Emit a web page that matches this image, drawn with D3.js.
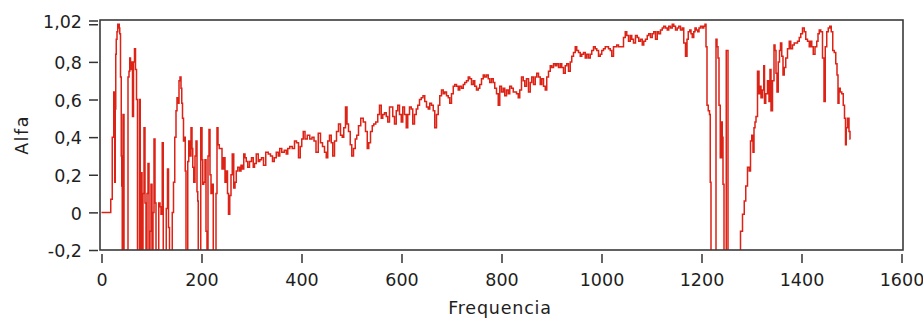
<!DOCTYPE html>
<html><head><meta charset="utf-8">
<script src="https://cdn.jsdelivr.net/npm/d3@7"></script>
<style>
body{margin:0;background:#fff}
svg{display:block}
text{font-family:"DejaVu Sans",Verdana,sans-serif;fill:#1e1e1e}
</style>
</head><body>
<svg id="c" width="923" height="320"></svg>
<script>
// ---- data ----
const freq = [0,18,19,21,22,24,25,26,27,28,29,30,32,33,35,36,37,39,40,41,42,44,46,50,52,54,56,57,59,61,63,65,67,69,71,73,75,77,78,80,82,84,86,88,90,92,94,96,98,100,102,104,106,108,110,113,116,118,120,123,124,128,131,133,135,137,140,143,145,148,150,152,154,156,158,160,161,163,165,167,168,170,172,173,176,178,180,182,183,186,188,190,192,193,194,197,200,202,203,206,208,210,212,214,216,218,220,222,225,228,230,232,
234,237,240,242,246,248,251,253,255,258,260,263,266,268,271,274,278,280,283,286,288,291,294,298,302,305,307,312,315,318,322,326,331,336,340,344,347,352,355,358,363,368,371,374,379,384,388,392,396,399,402,405,409,414,419,423,427,
431,436,440,444,448,451,454,458,461,464,468,472,476,480,483,486,490,492,496,499,502,506,509,512,516,521,526,530,533,536,540,543,546,551,554,558,561,564,568,571,574,578,581,584,588,591,594,598,601,604,608,611,614,618,621,624,628,631,634,638,641,
645,648,652,655,658,662,665,668,672,675,678,682,685,688,692,695,698,702,705,708,712,715,718,722,725,728,732,735,738,742,745,748,752,755,758,762,765,768,772,775,778,782,785,788,792,795,798,802,805,808,812,815,818,822,825,828,832,835,838,842,845,848,852,
856,859,862,866,869,872,876,879,882,886,889,892,896,899,902,906,909,912,916,919,922,926,929,932,936,939,942,946,949,952,956,959,962,966,969,972,976,979,982,986,989,992,996,999,1002,1006,1009,1012,1016,1019,1022,1026,1029,1032,1036,1039,1042,1046,1049,1052,1056,1059,1062,1066,
1070,1073,1076,1080,1083,1086,1090,1093,1096,1100,1103,1106,1110,1113,1116,1120,1123,1126,1130,1133,1136,1140,1143,1146,1150,1153,1156,1160,1163,1166,1170,1172,1175,1178,1180,1183,1186,1188,1191,1194,1196,1200,1203,1206,1208,1210,1212,1215,1217,1218,1220,1228,1230,1232,1234,1236,1239,1241,1242,1244,1246,1249,1250,1252,1254,1276,
1280,1284,1287,1290,1294,1297,1299,1302,1304,1306,1308,1310,1314,1316,1318,1320,1324,1325,1327,1330,1334,1336,1338,1340,1344,1346,1348,1350,1352,1355,1357,1359,1362,1364,1367,1370,1374,1377,1380,1384,1387,1390,1394,1397,1400,1404,1407,1410,1414,1417,1419,1422,1425,1429,1432,1434,1437,1440,1444,1446,1449,1452,1455,1458,1461,1464,1467,1470,1472,1474,1476,1479,1482,1485,1487,1489,1490,1494,1496,1498];

const alfa = [0,0,0.07,0.07,0.40,0.40,0.64,0.60,0.16,0.55,0.84,0.92,0.96,1.00,1.00,0.98,0.95,0.72,0.30,0.14,-0.45,0.52,-0.45,-0.45,-0.20,0.72,0.75,0.82,0.76,0.80,0.51,0.80,0.87,0.76,0.60,-0.45,-0.45,0.60,-0.45,0.21,-0.30,0.10,0.45,0.05,-0.45,0.10,0.26,-0.45,-0.10,0.15,-0.45,0.00,0.39,0.05,-0.45,-0.20,0.05,0.03,-0.01,0.37,-0.45,-0.45,0.02,0.23,-0.08,-0.45,-0.45,0.00,0.16,0.40,0.54,0.61,0.58,0.70,0.72,0.66,0.58,0.50,0.38,0.40,0.22,-0.45,-0.45,0.27,0.38,0.30,0.45,0.34,0.24,0.16,0.30,0.38,0.11,0.06,-0.45,-0.45,0.45,0.28,0.15,0.16,0.28,-0.10,-0.45,0.30,0.44,0.20,0.10,0.15,-0.45,-0.45,0.10,0.45,
0.36,0.34,0.34,0.23,0.29,0.16,0.22,0.10,-0.01,0.09,0.20,0.31,0.13,0.16,0.22,0.24,0.22,0.25,0.23,0.31,0.29,0.27,0.24,0.27,0.29,0.24,0.26,0.31,0.27,0.28,0.29,0.25,0.32,0.31,0.30,0.27,0.29,0.32,0.30,0.34,0.32,0.33,0.31,0.34,0.35,0.34,0.38,0.37,0.29,0.35,0.39,0.43,0.39,0.41,0.39,0.40,0.38,
0.32,0.42,0.37,0.35,0.32,0.29,0.38,0.41,0.37,0.30,0.38,0.43,0.47,0.41,0.40,0.45,0.56,0.47,0.43,0.36,0.30,0.34,0.39,0.41,0.46,0.50,0.48,0.43,0.34,0.37,0.43,0.46,0.47,0.48,0.52,0.57,0.50,0.52,0.53,0.51,0.48,0.56,0.56,0.51,0.47,0.54,0.57,0.52,0.48,0.56,0.52,0.45,0.52,0.56,0.55,0.47,0.52,0.55,0.57,0.60,0.61,
0.62,0.59,0.56,0.55,0.58,0.57,0.54,0.45,0.52,0.57,0.62,0.65,0.63,0.64,0.62,0.61,0.58,0.63,0.67,0.68,0.67,0.65,0.67,0.66,0.68,0.69,0.70,0.72,0.71,0.68,0.70,0.67,0.65,0.66,0.68,0.71,0.73,0.72,0.73,0.71,0.69,0.71,0.69,0.66,0.63,0.57,0.67,0.64,0.66,0.62,0.65,0.63,0.67,0.66,0.64,0.64,0.63,0.61,0.65,0.72,0.70,0.67,0.71,
0.64,0.69,0.72,0.68,0.72,0.74,0.72,0.68,0.71,0.67,0.65,0.72,0.75,0.78,0.77,0.79,0.78,0.79,0.77,0.79,0.77,0.74,0.78,0.79,0.75,0.80,0.83,0.85,0.88,0.86,0.85,0.83,0.84,0.85,0.82,0.84,0.82,0.84,0.86,0.88,0.87,0.86,0.83,0.84,0.86,0.87,0.88,0.88,0.87,0.86,0.83,0.88,0.88,0.89,0.88,0.88,0.88,0.93,0.96,0.94,0.91,0.94,0.92,0.90,
0.94,0.93,0.91,0.92,0.89,0.91,0.92,0.94,0.95,0.93,0.95,0.96,0.92,0.96,0.95,0.97,0.98,0.99,0.98,0.97,0.99,0.98,1.00,0.99,0.97,0.98,0.99,0.97,0.98,0.90,0.83,0.92,0.96,0.97,0.95,0.93,0.96,0.98,0.97,0.96,0.98,0.99,0.98,0.99,1.00,0.88,0.57,0.54,0.52,0.16,-0.45,-0.45,0.92,0.88,0.82,0.57,0.29,0.48,0.40,0.15,-0.45,-0.45,0.86,0.86,-0.45,-0.45,
-0.10,-0.01,0.06,0.14,0.24,0.22,0.38,0.41,0.32,0.45,0.48,0.51,0.75,0.63,0.67,0.61,0.65,0.78,0.58,0.63,0.70,0.59,0.76,0.54,0.70,0.89,0.86,0.74,0.64,0.80,0.86,0.90,0.83,0.73,0.77,0.82,0.87,0.91,0.87,0.89,0.90,0.90,0.91,0.93,0.95,0.98,0.96,0.92,0.91,0.88,0.91,0.88,0.84,0.88,0.91,0.95,0.97,0.96,0.82,0.59,0.88,0.96,0.98,0.99,0.96,0.86,0.85,0.79,0.73,0.58,0.66,0.64,0.63,0.57,0.50,0.36,0.45,0.50,0.43,0.39];

const xTicks = [0,200,400,600,800,1000,1200,1400,1600];
const yTicks = [-0.2,0,0.2,0.4,0.6,0.8,1.0,1.02];
const yTickLabels = ["-0,2","0","0,2","0,4","0,6","0,8","","1,02"];
const xLabel = "Frequencia";
const yLabel = "Alfa";

// ---- drawing ----
const svg = d3.select("#c");
const L = 100, R = 903, T = 20, B = 250;
const x = d3.scaleLinear().domain([0,1600]).range([101.5,901.5]);
const y = d3.scaleLinear().domain([-0.2,1.02]).range([250,20.5]);
const data = freq.map((f,i)=>({f, v: alfa[i]}));

svg.append("defs").append("clipPath").attr("id","clip")
  .append("rect").attr("x",L).attr("y",T).attr("width",R-L).attr("height",B-T);

svg.append("g").attr("clip-path","url(#clip)")
  .append("path").datum(data)
  .attr("fill","none").attr("stroke","#dd2216").attr("stroke-width",1.5)
  .attr("stroke-linejoin","miter")
  .attr("d", d3.line().curve(d3.curveStep).x(d=>x(d.f)).y(d=>y(d.v)));

svg.append("rect").attr("x",L).attr("y",T).attr("width",R-L).attr("height",B-T)
  .attr("fill","none").attr("stroke","#3a3a3a").attr("stroke-width",1.6);

const yAxis = d3.axisLeft(y).tickValues(yTicks)
  .tickFormat((d,i)=>yTickLabels[i]).tickSize(9).tickPadding(7);
const gy = svg.append("g").attr("transform","translate(98,0)").call(yAxis);
gy.select(".domain").remove();
gy.selectAll(".tick line").attr("stroke","#333").attr("stroke-width",1.5);
gy.selectAll(".tick text").attr("font-size","17.5px").attr("dy","0.38em")
  .style("font-family","'DejaVu Sans',Verdana,sans-serif").attr("fill","#1e1e1e");

const xAxis = d3.axisBottom(x).tickValues(xTicks).tickFormat(d=>String(d))
  .tickSize(9).tickPadding(11);
const gx = svg.append("g").attr("transform","translate(0,254)").call(xAxis);
gx.select(".domain").remove();
gx.selectAll(".tick line").attr("stroke","#333").attr("stroke-width",1.5);
gx.selectAll(".tick text").attr("font-size","17.5px")
  .style("font-family","'DejaVu Sans',Verdana,sans-serif").attr("fill","#1e1e1e");

svg.append("text").attr("x",500).attr("y",314).attr("text-anchor","middle")
  .attr("font-size","17.5px").attr("letter-spacing","0.8px").text(xLabel);
svg.append("text").attr("transform","translate(28,135) rotate(-90)")
  .attr("text-anchor","middle").attr("font-size","17.5px").attr("letter-spacing","1.5px").text(yLabel);
</script>
</body></html>
